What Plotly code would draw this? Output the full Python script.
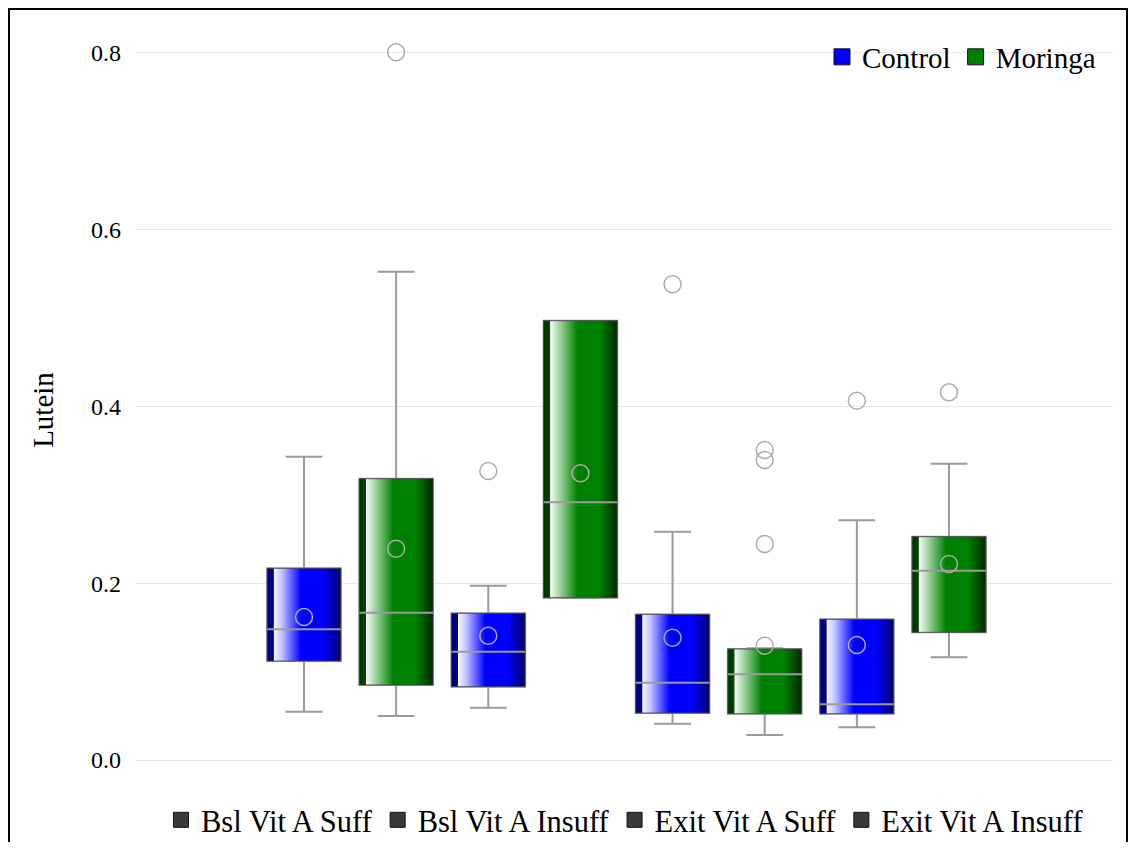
import plotly.graph_objects as go

# ---------------- data ----------------
groups = ["Bsl Vit A Suff", "Bsl Vit A Insuff", "Exit Vit A Suff", "Exit Vit A Insuff"]
treatments = ["Control", "Moringa"]

# order: (group0, Control), (group0, Moringa), (group1, Control), ...
lower_fence = [0.0547, 0.0498, 0.0592, 0.1833, 0.0411, 0.0283, 0.0370, 0.1162]
q1_vals     = [0.1120, 0.0849, 0.0830, 0.1837, 0.0532, 0.0524, 0.0524, 0.1445]
medians     = [0.1479, 0.1667, 0.1226, 0.2916, 0.0875, 0.0970, 0.0630, 0.2142]
q3_vals     = [0.2169, 0.3183, 0.1660, 0.4971, 0.1648, 0.1256, 0.1592, 0.2527]
upper_fence = [0.3432, 0.5525, 0.1972, 0.4971, 0.2583, 0.1264, 0.2712, 0.3353]
means       = [0.1618, 0.2391, 0.1407, 0.3244, 0.1384, 0.1293, 0.1301, 0.2218]
outliers    = [[], [0.8008], [0.3270], [], [0.5383], [0.3508, 0.3395, 0.2444], [0.4066], [0.4160]]

# ---------------- style ----------------
FONT = "Liberation Serif, Times New Roman, serif"
OFF = 8                      # page body margin
W, H = 1120, 834             # figure size so that it fits the 1136x850 window
ML, MR, MT, MB = 127, 15, 32, 62
BOX_W = 0.8
XR = [-1.834, 8.78]
YR = [-0.0226, 0.8147]
treat_color = {"Control": "#0000ff", "Moringa": "#008000"}
treat_scale = {
    "Control": [[0.0, "#000070"], [0.085, "#000090"], [0.095, "#f6f6ff"], [0.2, "#c4c4ff"],
                [0.46, "#0000ff"], [0.76, "#0000ff"], [1.0, "#000070"]],
    "Moringa": [[0.0, "#003000"], [0.085, "#004800"], [0.095, "#f4fbf4"], [0.2, "#b0d8b0"],
                [0.46, "#008000"], [0.76, "#008000"], [1.0, "#002a00"]],
}
GRAY = "#9a9a9a"
CIRCLE = "#acacac"

fig = go.Figure()

n = len(groups) * len(treatments)
positions = [i for i in range(n)]
treat_of = [treatments[i % len(treatments)] for i in range(n)]

# layer 1: whiskers (box statistics)
for i in range(n):
    fig.add_trace(go.Box(
        x=[positions[i]],
        q1=[q1_vals[i]], median=[medians[i]], q3=[q3_vals[i]],
        lowerfence=[lower_fence[i]], upperfence=[upper_fence[i]],
        width=BOX_W, whiskerwidth=0.5,
        fillcolor="rgba(0,0,0,0)",
        line=dict(color=GRAY, width=2),
        boxpoints=False, showlegend=False, hoverinfo="skip",
        xaxis="x", yaxis="y",
    ))

# layer 2: gradient-filled box bodies
for i in range(n):
    p = positions[i]
    x0, x1 = p - BOX_W / 2, p + BOX_W / 2
    t = treat_of[i]
    fig.add_trace(go.Scatter(
        x=[x0, x1, x1, x0, x0],
        y=[q1_vals[i], q1_vals[i], q3_vals[i], q3_vals[i], q1_vals[i]],
        mode="lines", fill="toself",
        fillgradient=dict(type="horizontal", colorscale=treat_scale[t]),
        line=dict(color="rgba(70,70,70,0.85)", width=1),
        hoverinfo="skip", showlegend=False, xaxis="x2", yaxis="y2",
    ))

# layer 3: median lines
for i in range(n):
    p = positions[i]
    fig.add_trace(go.Scatter(
        x=[p - BOX_W / 2, p + BOX_W / 2], y=[medians[i], medians[i]],
        mode="lines", line=dict(color=GRAY, width=2),
        hoverinfo="skip", showlegend=False, xaxis="x3", yaxis="y3",
    ))

# means and outliers as hollow circles
mx, my = [], []
for i in range(n):
    mx.append(positions[i]); my.append(means[i])
    for o in outliers[i]:
        mx.append(positions[i]); my.append(o)
fig.add_trace(go.Scatter(
    x=mx, y=my, mode="markers",
    marker=dict(symbol="circle", size=17, color="rgba(0,0,0,0)",
                line=dict(color=CIRCLE, width=1.5)),
    showlegend=False, hoverinfo="skip", xaxis="x3", yaxis="y3",
))

# legend entries: treatments (top)
for t in treatments:
    fig.add_trace(go.Scatter(
        x=[None], y=[None], mode="markers", name=t,
        marker=dict(symbol="square", size=16, color=treat_color[t],
                    line=dict(color="#111111", width=1)),
        legend="legend",
    ))
# legend entries: groups (bottom)
for g in groups:
    fig.add_trace(go.Scatter(
        x=[None], y=[None], mode="markers", name=g,
        marker=dict(symbol="square", size=15, color="#3a3a3a",
                    line=dict(color="#111111", width=1)),
        legend="legend2",
    ))

pw = W - ML - MR
ph = H - MT - MB
def px_to_paper_x(page_x):
    return (page_x - OFF - ML) / pw
def px_to_paper_y(page_y):
    return (H - MB - (page_y - OFF)) / ph

# outer frame
fig.add_shape(type="rect", xref="paper", yref="paper",
              x0=px_to_paper_x(9), x1=px_to_paper_x(1127),
              y0=px_to_paper_y(880), y1=px_to_paper_y(9),
              line=dict(color="black", width=2), fillcolor="rgba(0,0,0,0)", layer="above")

hidden = dict(visible=False, showgrid=False, zeroline=False)
fig.update_layout(
    width=W, height=H,
    margin=dict(l=ML, r=MR, t=MT, b=MB, autoexpand=False),
    paper_bgcolor="white", plot_bgcolor="white",
    font=dict(family=FONT, color="black", size=24),
    xaxis=dict(range=XR, showticklabels=False, showgrid=False,
               zeroline=False, showline=False, ticks="", automargin=False),
    yaxis=dict(range=YR, dtick=0.2, tickformat=".1f",
               showgrid=True, gridcolor="#e8e8e8", gridwidth=1,
               zeroline=False, showline=False, ticks="", automargin=False,
               ticklabelstandoff=13,
               tickfont=dict(size=24, family=FONT),
               title=dict(text="Lutein", font=dict(size=29, family=FONT), standoff=28)),
    xaxis2=dict(range=XR, overlaying="x", **hidden),
    yaxis2=dict(range=YR, overlaying="y", **hidden),
    xaxis3=dict(range=XR, overlaying="x", **hidden),
    yaxis3=dict(range=YR, overlaying="y", **hidden),
    legend=dict(orientation="h", x=px_to_paper_x(1101), xanchor="right",
                y=px_to_paper_y(57), yanchor="middle",
                font=dict(size=29, family=FONT), bgcolor="rgba(0,0,0,0)"),
    legend2=dict(orientation="h", x=px_to_paper_x(161), xanchor="left",
                 y=px_to_paper_y(820), yanchor="middle",
                 font=dict(size=30.5, family=FONT), bgcolor="rgba(0,0,0,0)"),
    showlegend=True,
)

fig.write_html("out.html")
